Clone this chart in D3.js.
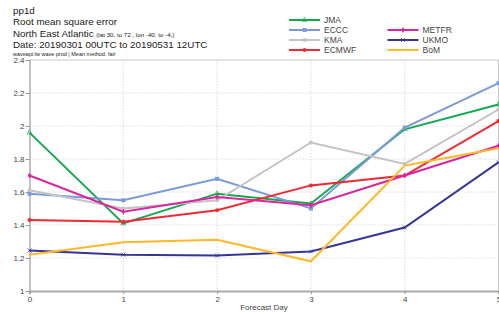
<!DOCTYPE html>
<html>
<head>
<meta charset="utf-8">
<script src="https://cdn.jsdelivr.net/npm/d3@7"></script>
<style>
body { margin: 0; background: #fff; }
text { font-family: "Liberation Sans", Arial, sans-serif; }
</style>
</head>
<body>
<svg width="499" height="313"></svg>
<script>
var svg = d3.select("svg"),
    width = +svg.attr("width"),
    height = +svg.attr("height");

// forecast days and rmse per centre
var days = [0, 1, 2, 3, 4, 5];
var yTicks = [1, 1.2, 1.4, 1.6, 1.8, 2, 2.2, 2.4];
var jma   = [1.96, 1.41, 1.59, 1.53, 1.98, 2.13];
var eccc  = [1.59, 1.55, 1.68, 1.50, 1.99, 2.26];
var kma   = [1.61, 1.50, 1.55, 1.90, 1.77, 2.10];
var ecmwf = [1.43, 1.42, 1.49, 1.64, 1.70, 2.03];
var metfr = [1.70, 1.48, 1.57, 1.52, 1.70, 1.88];
var ukmo  = [1.245, 1.22, 1.215, 1.24, 1.385, 1.78];
var bom   = [1.22, 1.295, 1.31, 1.18, 1.76, 1.865];

var series = [
    {name: "JMA", vals: jma, color: "#14a84f", mark: "triangle", col: 0, row: 0},
    {name: "ECCC", vals: eccc, color: "#7b9bd8", mark: "square", col: 0, row: 1},
    {name: "KMA", vals: kma, color: "#c4c4c4", mark: "circle", col: 0, row: 2},
    {name: "ECMWF", vals: ecmwf, color: "#ee2a35", mark: "circle", col: 0, row: 3},
    {name: "METFR", vals: metfr, color: "#d9259e", mark: "diamond", col: 1, row: 1},
    {name: "UKMO", vals: ukmo, color: "#343597", mark: "cross", col: 1, row: 2},
    {name: "BoM", vals: bom, color: "#fdb927", mark: null, col: 1, row: 3}
];

var x = d3.scaleLinear().domain([0, 5]).range([29.5, 498.5]);
var y = d3.scaleLinear().domain([1, 2.4]).range([291, 60]);

// titles
var titles = svg.append("g").attr("fill", "#222");
titles.append("text").attr("x", 13).attr("y", 14).attr("font-size", 9.8).text("pp1d");
titles.append("text").attr("x", 13).attr("y", 25).attr("font-size", 9.8).text("Root mean square error");
var t3 = titles.append("text").attr("x", 13).attr("y", 36.5).attr("font-size", 9.8).text("North East Atlantic ");
t3.append("tspan").attr("font-size", 6.2).text("(lat  30. to 72., lon  -40. to  -4.)");
titles.append("text").attr("x", 13).attr("y", 47.5).attr("font-size", 9.8).text("Date: 20190301 00UTC to 20190531 12UTC");
titles.append("text").attr("x", 13).attr("y", 55.5).attr("font-size", 5.5).text("waveapi:lw wave prod | Mean method: fair");

// grid
var grid = svg.append("g").attr("stroke", "#d4d4d4").attr("stroke-dasharray", "1.5,1.5").attr("stroke-width", 0.8);
grid.selectAll("line.v").data(days.slice(1, 5)).enter().append("line")
    .attr("x1", function(d) { return x(d); }).attr("x2", function(d) { return x(d); })
    .attr("y1", y(2.4)).attr("y2", y(1));
grid.selectAll("line.h").data(yTicks.slice(1, 7)).enter().append("line")
    .attr("x1", x(0)).attr("x2", x(5))
    .attr("y1", function(d) { return y(d); }).attr("y2", function(d) { return y(d); });

// frame top/right
svg.append("path")
    .attr("d", "M" + x(0) + "," + y(2.4) + "H" + x(5) + "V" + y(1))
    .attr("fill", "none").attr("stroke", "#c8c8c8").attr("stroke-width", 1);

// axes
var numFmt = function(d) { return String(+d.toFixed(1)); };
var yAxis = svg.append("g")
    .attr("transform", "translate(" + x(0) + ",0)")
    .call(d3.axisLeft(y).tickValues(yTicks).tickSize(4).tickFormat(numFmt));
yAxis.select(".domain").attr("stroke", "#999").attr("stroke-width", 1.2);
yAxis.selectAll(".tick line").attr("stroke", "#999");
yAxis.selectAll(".tick text").attr("font-size", 8).attr("fill", "#444").attr("x", -5)
    .attr("font-family", "'Liberation Sans', Arial, sans-serif");

var xAxis = svg.append("g")
    .attr("transform", "translate(0," + y(1) + ")")
    .call(d3.axisBottom(x).tickValues(days).tickSize(3).tickFormat(numFmt));
xAxis.select(".domain").attr("stroke", "#aaa").attr("stroke-width", 2);
xAxis.selectAll(".tick line").attr("stroke", "#999");
xAxis.selectAll(".tick text").attr("font-size", 8).attr("fill", "#444").attr("y", 5)
    .attr("font-family", "'Liberation Sans', Arial, sans-serif");

svg.append("text").attr("x", (x(0) + x(5)) / 2).attr("y", 310)
    .attr("text-anchor", "middle").attr("font-size", 8).attr("fill", "#444")
    .text("Forecast Day");

// lines
var line = d3.line().x(function(d, i) { return x(days[i]); }).y(function(d) { return y(d); });

function drawMark(g, type, cx, cy, color) {
    if (!type) return;
    if (type === "square") {
        g.append("rect").attr("x", cx - 2).attr("y", cy - 2).attr("width", 4).attr("height", 4).attr("fill", color);
    } else if (type === "circle") {
        g.append("circle").attr("cx", cx).attr("cy", cy).attr("r", 2).attr("fill", color);
    } else if (type === "triangle") {
        g.append("path").attr("d", d3.symbol(d3.symbolTriangle, 10)()).attr("transform", "translate(" + cx + "," + cy + ")")
            .attr("fill", "none").attr("stroke", color).attr("stroke-width", 0.7);
    } else if (type === "diamond") {
        g.append("path").attr("d", d3.symbol(d3.symbolDiamond, 10)()).attr("transform", "translate(" + cx + "," + cy + ")").attr("fill", color);
    } else if (type === "cross") {
        g.append("path").attr("d", d3.symbol(d3.symbolX, 12)()).attr("transform", "translate(" + cx + "," + cy + ")")
            .attr("stroke", color).attr("stroke-width", 0.8);
    }
}

var lines = svg.append("g");
series.forEach(function(s) {
    var g = lines.append("g");
    g.append("path").datum(s.vals).attr("d", line)
        .attr("fill", "none").attr("stroke", s.color).attr("stroke-width", 2);
    s.vals.forEach(function(v, i) { drawMark(g, s.mark, x(days[i]), y(v), s.color); });
});

// legend
var legend = svg.append("g");
series.forEach(function(s) {
    var lx = s.col === 0 ? 289 : 387.5;
    var ly = 20 + s.row * 10;
    var g = legend.append("g");
    g.append("line").attr("x1", lx).attr("x2", lx + 31).attr("y1", ly).attr("y2", ly)
        .attr("stroke", s.color).attr("stroke-width", 2);
    drawMark(g, s.mark, lx + 15.5, ly, s.color);
    g.append("text").attr("x", lx + 35).attr("y", ly + 3).attr("font-size", 8.5).attr("fill", "#444").text(s.name);
});
</script>
</body>
</html>
